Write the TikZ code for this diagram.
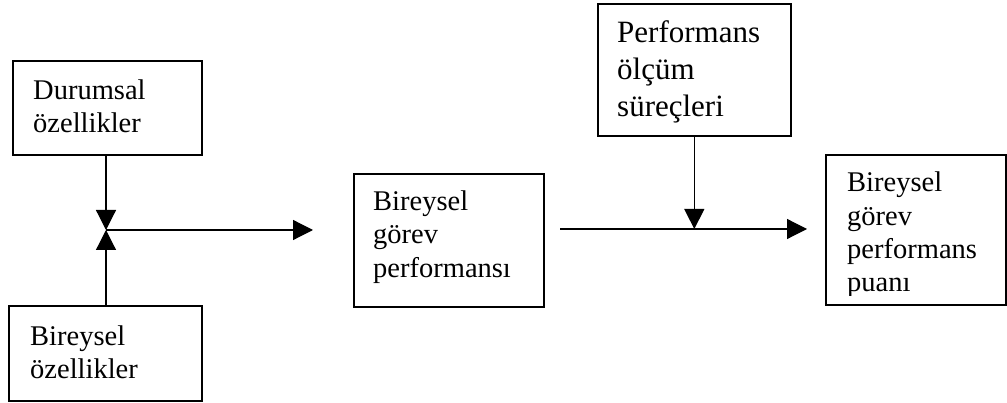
\documentclass[tikz,border=0pt]{standalone}
\usepackage{fontspec}
\setmainfont{Liberation Serif}
\usetikzlibrary{arrows.meta}
\tikzset{
  box/.style={draw, line width=1.6pt, inner sep=0pt, anchor=north west},
  lbl/.style={anchor=base west, inner sep=0pt, font=\fontsize{28.5}{33.3}\selectfont},
  biglbl/.style={lbl, font=\fontsize{31}{36.8}\selectfont},
  conn/.style={line width=1.2pt, -{Triangle[length=20pt,width=20pt]}},
}
\newcommand{\stacklines}[1]{\begin{tabular}[t]{@{}l@{}}#1\end{tabular}}
\begin{document}
\begin{tikzpicture}[x=1pt,y=-1pt]
  \useasboundingbox (0,0) rectangle (1007,403);

  % boxes
  \node[box, minimum width=189pt, minimum height=94pt]  (dur)  at (12,60)  {};
  \node[box, minimum width=193pt, minimum height=95pt]  (bir)  at (8,305)  {};
  \node[box, minimum width=190pt, minimum height=133pt] (gor)  at (353,173) {};
  \node[box, minimum width=193pt, minimum height=132pt] (olc)  at (597,3)   {};
  \node[box, minimum width=180pt, minimum height=150pt] (puan) at (825,154) {};

  % box texts
  \node[lbl] (durT) at (33,99.5)   {\stacklines{Durumsal\\özellikler}};
  \node[lbl] (birT) at (30,345.5)  {\stacklines{Bireysel\\özellikler}};
  \node[lbl] (gorT) at (373,210.5) {\stacklines{Bireysel\\görev\\performansı}};
  \node[biglbl] (olcT) at (617,43) {\stacklines{Performans\\ölçüm\\süreçleri}};
  \begin{scope}
    \clip (825,154) rectangle (1005,296);
    \node[lbl] (puanT) at (847,192) {\stacklines{Bireysel\\görev\\performans\\puanı}};
  \end{scope}

  % connector points
  \coordinate (j)  at (106,230);
  \coordinate (e1) at (313,230);
  \coordinate (s2) at (560,229);
  \coordinate (e2) at (807,229);

  % connectors
  \draw[conn] (dur.south -| j) -- (j);
  \draw[conn] (bir.north -| j) -- (j);
  \draw[conn] (j) -- (e1);
  \draw[conn] (s2) -- (e2);
  \draw[conn] (olc.south) -- (olc.south |- s2);
\end{tikzpicture}
\end{document}
